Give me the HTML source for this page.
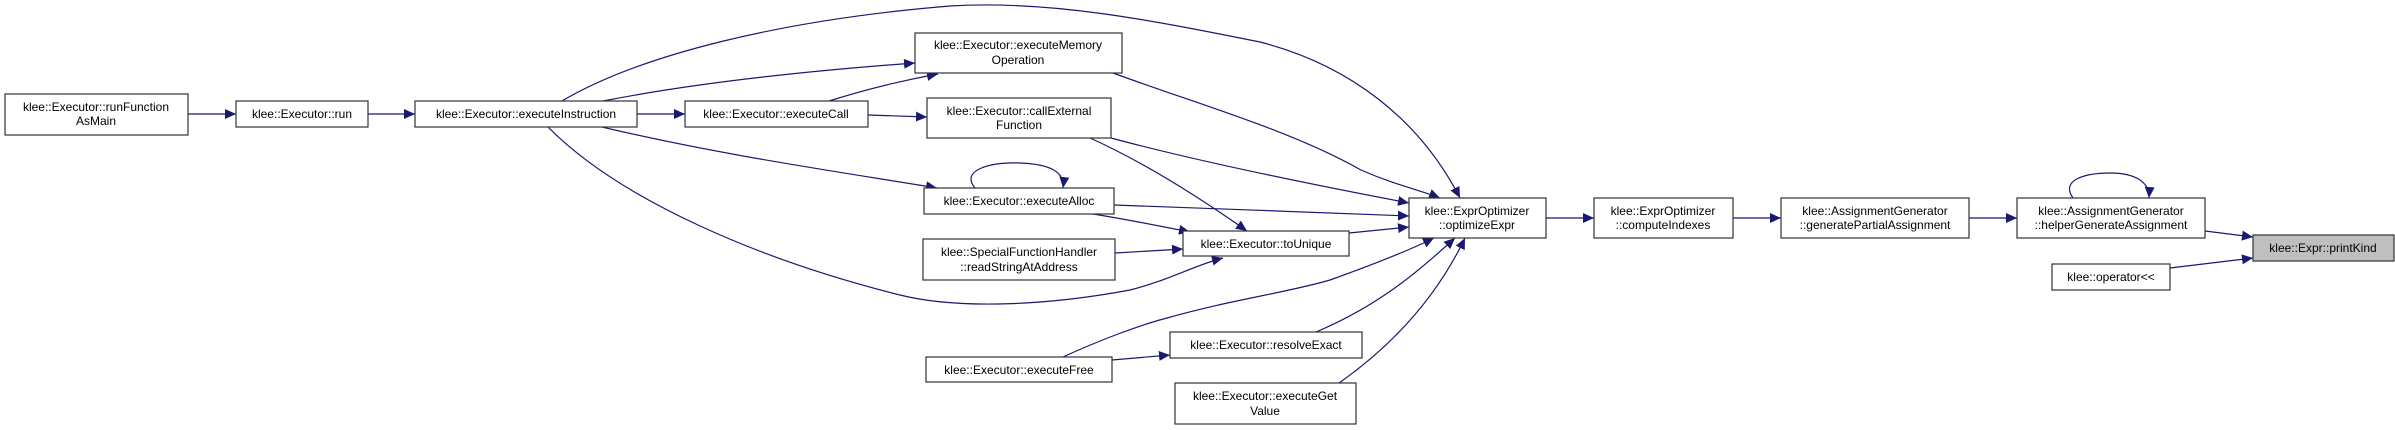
<!DOCTYPE html>
<html><head><meta charset="utf-8"><style>
html,body{margin:0;padding:0;background:#fff;}
svg{display:block;}
text{font-family:"Liberation Sans",Arial,sans-serif;font-size:12px;fill:#000;}
</style></head><body>
<svg width="2395" height="430" viewBox="0 0 2395 430" xmlns="http://www.w3.org/2000/svg">
<defs>
<marker id="a" markerUnits="userSpaceOnUse" markerWidth="12" markerHeight="10" refX="11" refY="5" orient="auto">
<path d="M0,0 L11,5 L0,10 Z" fill="#191970"/>
</marker>
</defs>
<g fill="none" stroke="#191970" stroke-width="1.2" marker-end="url(#a)">
<path d="M188,114 L236,114"/>
<path d="M368,114 L415,114"/>
<path d="M637,114 L685,114"/>
<path d="M562,101 C640,55 780,20 950,6 C1050,0 1150,20 1260,42 C1350,65 1420,120 1460,198"/>
<path d="M603,101 C700,82 820,70 915,63"/>
<path d="M829,101 C870,88 905,80 938,74"/>
<path d="M868,115 L927,117"/>
<path d="M602,127 C720,155 840,172 937,188"/>
<path d="M548,127 C620,200 760,260 900,295 C960,310 1050,305 1130,290 C1170,280 1195,265 1223,258"/>
<path d="M1113,73 C1200,105 1290,130 1361,170 C1395,185 1420,190 1440,198"/>
<path d="M1111,138 C1200,162 1330,188 1409,203"/>
<path d="M1090,138 C1150,165 1210,205 1247,231"/>
<path d="M1114,205 C1200,208 1330,213 1409,216"/>
<path d="M1093,214 C1130,220 1160,226 1190,232"/>
<path d="M1115,253 L1183,249"/>
<path d="M1349,233 L1409,227"/>
<path d="M1063,357 C1100,340 1140,325 1167,318 C1230,300 1290,292 1330,280 C1380,262 1410,250 1434,238"/>
<path d="M1112,360 L1170,355"/>
<path d="M1316,332 C1380,305 1420,270 1455,238"/>
<path d="M1339,383 C1400,340 1440,290 1465,238"/>
<path d="M1546,218 L1594,218"/>
<path d="M1733,218 L1781,218"/>
<path d="M1969,218 L2017,218"/>
<path d="M2205,231 L2253,237"/>
<path d="M2170,268 L2253,258"/>
<path d="M975,188 C960,170 990,162 1020,163 C1050,164 1065,172 1063,188"/>
<path d="M2073,198 C2060,180 2085,173 2110,173 C2135,173 2150,182 2149,198"/>
</g>
<g stroke="#333" stroke-width="1.2" fill="#fff">
<rect x="5" y="94" width="183" height="41"/>
<rect x="236" y="101" width="132" height="26"/>
<rect x="415" y="101" width="222" height="26"/>
<rect x="685" y="101" width="183" height="26"/>
<rect x="915" y="33" width="207" height="40"/>
<rect x="927" y="98" width="184" height="40"/>
<rect x="924" y="188" width="190" height="26"/>
<rect x="923" y="239" width="192" height="41"/>
<rect x="1183" y="231" width="166" height="25"/>
<rect x="1409" y="198" width="137" height="40"/>
<rect x="1594" y="198" width="139" height="40"/>
<rect x="926" y="357" width="186" height="25"/>
<rect x="1170" y="332" width="192" height="26"/>
<rect x="1175" y="383" width="181" height="41"/>
<rect x="1781" y="198" width="188" height="40"/>
<rect x="2017" y="198" width="188" height="40"/>
<rect x="2253" y="235" width="141" height="26" fill="#bfbfbf"/>
<rect x="2052" y="264" width="118" height="26"/>
</g>
<g text-anchor="middle">
<text x="96" y="111">klee::Executor::runFunction</text><text x="96" y="125">AsMain</text>
<text x="302" y="118">klee::Executor::run</text>
<text x="526" y="118">klee::Executor::executeInstruction</text>
<text x="776" y="118">klee::Executor::executeCall</text>
<text x="1018" y="49">klee::Executor::executeMemory</text><text x="1018" y="64">Operation</text>
<text x="1019" y="115">klee::Executor::callExternal</text><text x="1019" y="129">Function</text>
<text x="1019" y="205">klee::Executor::executeAlloc</text>
<text x="1019" y="256">klee::SpecialFunctionHandler</text><text x="1019" y="271">::readStringAtAddress</text>
<text x="1266" y="248">klee::Executor::toUnique</text>
<text x="1477" y="215">klee::ExprOptimizer</text><text x="1477" y="229">::optimizeExpr</text>
<text x="1663" y="215">klee::ExprOptimizer</text><text x="1663" y="229">::computeIndexes</text>
<text x="1019" y="374">klee::Executor::executeFree</text>
<text x="1266" y="349">klee::Executor::resolveExact</text>
<text x="1265" y="400">klee::Executor::executeGet</text><text x="1265" y="415">Value</text>
<text x="1875" y="215">klee::AssignmentGenerator</text><text x="1875" y="229">::generatePartialAssignment</text>
<text x="2111" y="215">klee::AssignmentGenerator</text><text x="2111" y="229">::helperGenerateAssignment</text>
<text x="2323" y="252">klee::Expr::printKind</text>
<text x="2111" y="281">klee::operator&lt;&lt;</text>
</g>
</svg>
</body></html>
